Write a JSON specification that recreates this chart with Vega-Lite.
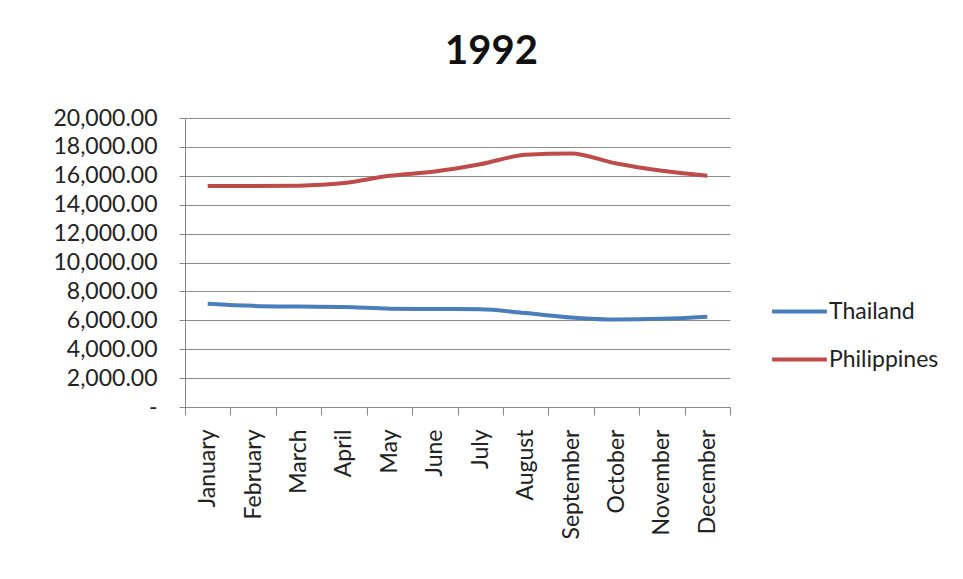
{
  "$schema": "https://vega.github.io/schema/vega-lite/v6.json",
  "width": 545,
  "height": 289,
  "autosize": {"type": "none"},
  "padding": {"left": 185, "top": 118, "right": 233, "bottom": 172},
  "background": "white",
  "title": {"text": "1992", "fontSize": 40, "font": "Lato", "fontWeight": "bold", "color": "#111111", "anchor": "middle", "dx": 34, "offset": 35},
  "data": {"values": [
    {"month": "January", "country": "Thailand", "value": 7150},
    {"month": "February", "country": "Thailand", "value": 7000},
    {"month": "March", "country": "Thailand", "value": 6950},
    {"month": "April", "country": "Thailand", "value": 6920},
    {"month": "May", "country": "Thailand", "value": 6800},
    {"month": "June", "country": "Thailand", "value": 6780},
    {"month": "July", "country": "Thailand", "value": 6760},
    {"month": "August", "country": "Thailand", "value": 6500},
    {"month": "September", "country": "Thailand", "value": 6200},
    {"month": "October", "country": "Thailand", "value": 6050},
    {"month": "November", "country": "Thailand", "value": 6100},
    {"month": "December", "country": "Thailand", "value": 6250},
    {"month": "January", "country": "Philippines", "value": 15300},
    {"month": "February", "country": "Philippines", "value": 15300},
    {"month": "March", "country": "Philippines", "value": 15320},
    {"month": "April", "country": "Philippines", "value": 15500},
    {"month": "May", "country": "Philippines", "value": 16000},
    {"month": "June", "country": "Philippines", "value": 16300},
    {"month": "July", "country": "Philippines", "value": 16800},
    {"month": "August", "country": "Philippines", "value": 17450},
    {"month": "September", "country": "Philippines", "value": 17550},
    {"month": "October", "country": "Philippines", "value": 16850},
    {"month": "November", "country": "Philippines", "value": 16350},
    {"month": "December", "country": "Philippines", "value": 16000}
  ]},
  "mark": {"type": "line", "strokeWidth": 4, "interpolate": "monotone"},
  "encoding": {
    "x": {
      "field": "month", "type": "ordinal", "sort": null, "bandPosition": 0.5,
      "scale": {"type": "band", "paddingInner": 0, "paddingOuter": 0},
      "axis": {"title": null, "labelAngle": -90, "labelFont": "Lato", "labelFontSize": 23, "labelColor": "#222222",
               "tickBand": "extent", "tickSize": 8, "tickColor": "#888888", "domainColor": "#888888", "labelPadding": 14, "grid": false}
    },
    "y": {
      "field": "value", "type": "quantitative",
      "scale": {"domain": [0, 20000]},
      "axis": {"title": null, "values": [0, 2000, 4000, 6000, 8000, 10000, 12000, 14000, 16000, 18000, 20000],
               "labelExpr": "datum.value == 0 ? '-     ' : format(datum.value, ',.2f')",
               "labelFont": "Lato", "labelFontSize": 23, "labelColor": "#222222",
               "tickSize": 6, "tickColor": "#888888", "domainColor": "#888888", "gridColor": "#8c8c8c", "labelPadding": 22}
    },
    "color": {
      "field": "country", "type": "nominal",
      "scale": {"domain": ["Thailand", "Philippines"], "range": ["#4A7EBB", "#BE4B48"]},
      "legend": {"title": null, "orient": "none", "legendX": 585, "legendY": 164, "symbolType": "stroke", "symbolSize": 3000,
                 "symbolStrokeWidth": 4, "labelFont": "Lato", "labelFontSize": 23, "labelColor": "#222222",
                 "rowPadding": 6, "padding": 0, "labelOffset": 0}
    }
  },
  "config": {"view": {"stroke": null}}
}
